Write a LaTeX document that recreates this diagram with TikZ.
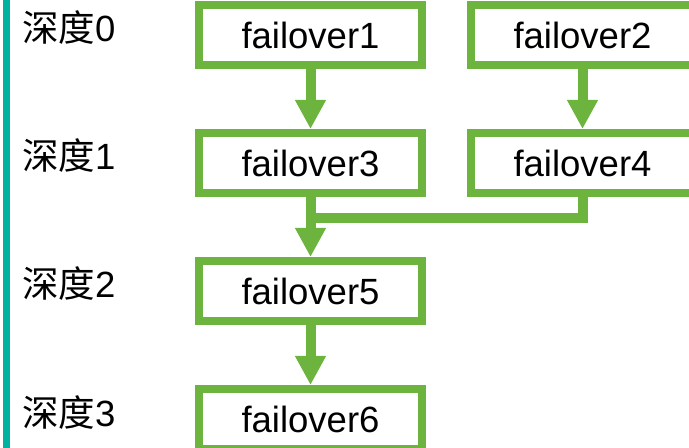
\documentclass[tikz,border=0pt]{standalone}
\usepackage{fontspec}
\setmainfont{Liberation Sans}
\newfontfamily\cjk{Noto Sans CJK SC}
\usetikzlibrary{arrows.meta}
\definecolor{boxgreen}{RGB}{108,180,62}
\definecolor{barteal}{RGB}{0,178,160}
\tikzset{
  fbox/.style={draw=boxgreen, line width=8bp, fill=white, minimum width=223bp,
    minimum height=60bp, inner sep=0pt, font=\fontsize{36.5bp}{40bp}\selectfont},
  lbl/.style={anchor=base west, inner sep=0pt, font=\fontsize{36.5bp}{40bp}\selectfont},
  conn/.style={draw=boxgreen, line width=10bp},
  arr/.style={conn, -{Triangle[width=29bp,length=29bp]}}
}
\begin{document}
\begin{tikzpicture}[x=1bp,y=-1bp]
\useasboundingbox (0,0) rectangle (689,448);
\fill[barteal] (3.3,0) rectangle (10,448);
\node[fbox] (b1) at (310.5,35) {failover1};
\node[fbox] (b2) at (582.5,35) {failover2};
\node[fbox] (b3) at (310.5,163) {failover3};
\node[fbox] (b4) at (582.5,163) {failover4};
\node[fbox] (b5) at (310.5,291) {failover5};
\node[fbox] (b6) at (310.5,419) {failover6};
\node[lbl] (l0) at (22,42) {{\cjk 深度}0};
\node[lbl] (l1) at (22,170) {{\cjk 深度}1};
\node[lbl] (l2) at (22,298) {{\cjk 深度}2};
\node[lbl] (l3) at (22,426) {{\cjk 深度}3};
\coordinate (m) at (310.5,218);
\draw[arr] (b1.south) -- (b3.north);
\draw[arr] (b2.south) -- (b4.north);
\draw[arr] (b3.south) -- (b5.north);
\draw[arr] (b5.south) -- (b6.north);
\draw[conn, line join=miter] (b4.south) |- (m);
\end{tikzpicture}
\end{document}
